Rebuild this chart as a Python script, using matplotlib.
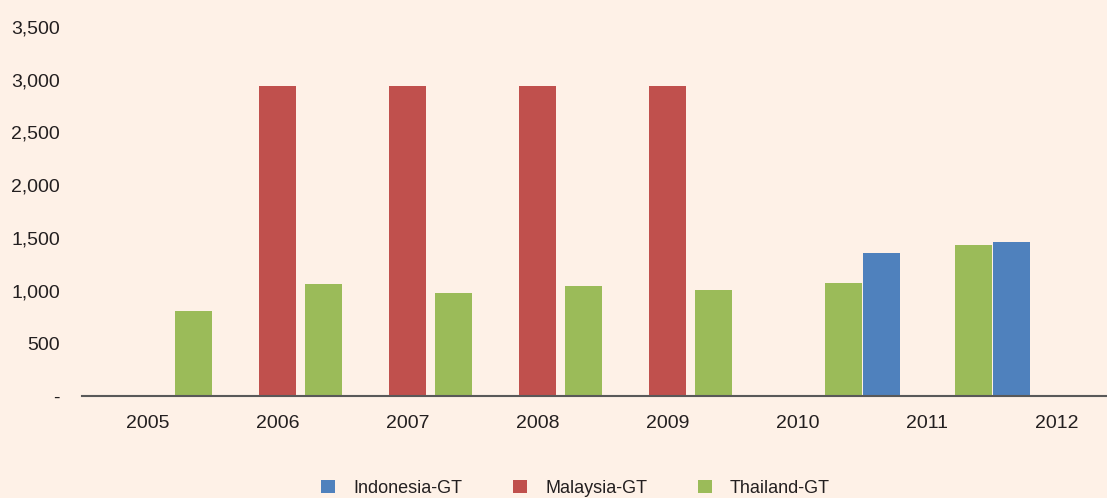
import matplotlib
matplotlib.use("Agg")
import matplotlib.pyplot as plt
from matplotlib.ticker import FuncFormatter
import numpy as np

plt.rcParams["font.family"] = ["Liberation Sans", "DejaVu Sans"]

years = ["2005", "2006", "2007", "2008", "2009", "2010", "2011", "2012"]
indonesia = [0, 0, 0, 0, 0, 0, 1358, 1462]
malaysia = [0, 2940, 2940, 2940, 2940, 0, 0, 0]
thailand = [807, 1064, 978, 1045, 1007, 1073, 1434, 0]

seriesNames = ["Indonesia-GT", "Malaysia-GT", "Thailand-GT"]
colors = ["#4F81BD", "#C0504D", "#9BBB59"]
bg = "#FEF1E7"
textColor = "#231F20"

fig = plt.figure(figsize = (11.07, 4.98), dpi = 100, facecolor = bg)
ax = fig.add_axes([0.0741, 0.2048, 0.9259, 0.741])
ax.set_facecolor(bg)

x = np.arange(len(years))
offset = 0.354
width = 0.285
for i, (vals, name, col) in enumerate(zip([indonesia, malaysia, thailand], seriesNames, colors)):
    ax.bar(x + (i - 1) * offset, vals, width, color = col, label = name, zorder = 2)

ax.set_xlim(-0.508, 7.385)
ax.set_ylim(0, 3500)
ax.set_yticks(range(0, 3501, 500))
ax.yaxis.set_major_formatter(FuncFormatter(lambda v, p: "-" if v == 0 else "{:,.0f}".format(v)))
ax.set_xticks(x)
ax.set_xticklabels(years)

for s in ["top", "right", "left"]:
    ax.spines[s].set_visible(False)
ax.spines["bottom"].set_color("#595959")
ax.spines["bottom"].set_linewidth(1.5)
ax.spines["bottom"].set_zorder(3)
ax.tick_params(axis = "both", length = 0, labelsize = 14, colors = textColor)
ax.tick_params(axis = "y", pad = 16)
ax.tick_params(axis = "x", pad = 14)

leg = fig.legend(loc = "center", bbox_to_anchor = (0.52, 0.02), ncol = 3, frameon = False,
                 fontsize = 13, handlelength = 0.78, handleheight = 0.78, handletextpad = 1.0,
                 columnspacing = 2.8, labelcolor = textColor)

fig.savefig("out.png", dpi = 100, facecolor = bg)
